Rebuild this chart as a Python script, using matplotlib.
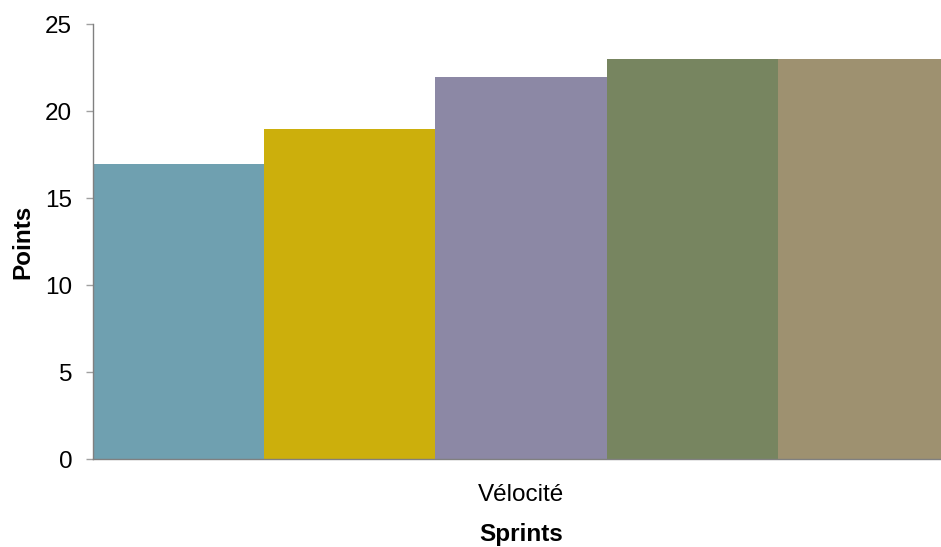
import matplotlib.pyplot as plt
import numpy as np

plt.rcParams['font.family'] = ['Liberation Sans', 'DejaVu Sans']

category = "Vélocité"
series_values = [17, 19, 22, 23, 23]
bar_colors = ['#6FA0B0', '#CCAF0C', '#8C88A5', '#778560', '#9E9170']
y_ticks = [0, 5, 10, 15, 20, 25]

fig = plt.figure(figsize=(9.41, 5.47), dpi=100)
W, H = 941, 547
ax = fig.add_axes([93 / W, (H - 459.3) / H, (949 - 93) / W, (459.3 - 24.3) / H])

n = len(series_values)
offsets = np.arange(n) - (n - 1) / 2
ax.bar(offsets, series_values, width=1.0, color=bar_colors, linewidth=0, zorder=2)

ax.set_xlim(-n / 2, n / 2)
ax.set_ylim(0, 25)
ax.set_yticks(y_ticks)
ax.set_xticks([0])
ax.set_xticklabels([category])

for side in ['top', 'right']:
    ax.spines[side].set_visible(False)
for side in ['left', 'bottom']:
    ax.spines[side].set_color('#808080')
    ax.spines[side].set_linewidth(1.0)

fs = 17.5
ax.tick_params(axis='y', direction='out', length=5, width=1, color='#a0a0a0',
               pad=10, labelsize=fs, labelcolor='black')
ax.tick_params(axis='x', length=0, pad=18, labelsize=fs, labelcolor='black')

ax.set_xlabel("Sprints", fontsize=fs, fontweight='bold', labelpad=12)
ax.set_ylabel("Points", fontsize=fs, fontweight='bold', labelpad=8)

fig.savefig("out.png", dpi=100, facecolor='white')
